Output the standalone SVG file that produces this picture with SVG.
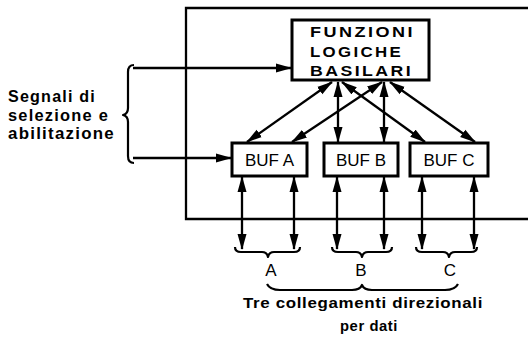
<svg xmlns="http://www.w3.org/2000/svg" width="528" height="343" viewBox="0 0 528 343">
<defs>
<marker id="ah" markerUnits="userSpaceOnUse" markerWidth="16" markerHeight="10" refX="15" refY="5" orient="auto-start-reverse" viewBox="0 0 16 10">
<path d="M0,0.5 L16,5 L0,9.5 z" fill="#000"/>
</marker>
<style>
.box{fill:#fff;stroke:#000;stroke-width:3}
.ln{fill:none;stroke:#000;stroke-width:2.3}
.ar{fill:none;stroke:#000;stroke-width:2.3;marker-end:url(#ah)}
.dar{fill:none;stroke:#000;stroke-width:2.3;marker-start:url(#ah);marker-end:url(#ah)}
.br{fill:none;stroke:#000;stroke-width:2.2;stroke-linejoin:round}
.t{font-family:"Liberation Sans",Arial,sans-serif;fill:#000}
.tb{font-family:"Liberation Sans",Arial,sans-serif;font-weight:bold;fill:#000}
</style>
</defs>
<rect width="528" height="343" fill="#fff"/>
<g id="frame">
<path class="ln" d="M528,8 H186 V219 H528"/>
</g>
<g id="connectors">
<path class="ar" d="M133,68 H291"/>
<path class="ar" d="M133,158 H231"/>
<path class="dar" d="M332,82 L247,142"/>
<path class="dar" d="M382,82 L292,142"/>
<path class="dar" d="M338,82 L338,142"/>
<path class="dar" d="M384,82 L384,142"/>
<path class="dar" d="M342,82 L425,142"/>
<path class="dar" d="M390,82 L475,142"/>
<path class="dar" d="M242,177 V249"/>
<path class="dar" d="M294,177 V249"/>
<path class="dar" d="M337,177 V249"/>
<path class="dar" d="M384,177 V249"/>
<path class="dar" d="M422,177 V249"/>
<path class="dar" d="M474,177 V249"/>
</g>
<g id="funzioni">
<rect class="box" x="292" y="20" width="137" height="60"/>
<text class="tb" x="310" y="37" font-size="14.5" letter-spacing="2" textLength="105" lengthAdjust="spacingAndGlyphs">FUNZIONI</text>
<text class="tb" x="310" y="56.5" font-size="14.5" letter-spacing="2" textLength="93" lengthAdjust="spacingAndGlyphs">LOGICHE</text>
<text class="tb" x="310" y="76" font-size="14.5" letter-spacing="2" textLength="103" lengthAdjust="spacingAndGlyphs">BASILARI</text>
</g>
<g id="bufA">
<rect class="box" x="232" y="143" width="75" height="33"/>
<text class="t" x="269.5" y="166" font-size="17" text-anchor="middle">BUF A</text>
</g>
<g id="bufB">
<rect class="box" x="324" y="143" width="74" height="33"/>
<text class="t" x="361" y="166" font-size="17" text-anchor="middle">BUF B</text>
</g>
<g id="bufC">
<rect class="box" x="410" y="143" width="78" height="33"/>
<text class="t" x="449" y="166" font-size="17" text-anchor="middle">BUF C</text>
</g>
<g id="segnali">
<path class="br" d="M134,65 Q128,65 128,72 V108 Q128,114 123,115 Q128,116 128,122 V156 Q128,163 134,163"/>
<text class="tb" x="8" y="102" font-size="16" letter-spacing="1.2" textLength="88" lengthAdjust="spacingAndGlyphs">Segnali di</text>
<text class="tb" x="8" y="121" font-size="16" letter-spacing="1.2" textLength="101" lengthAdjust="spacingAndGlyphs">selezione e</text>
<text class="tb" x="8" y="139" font-size="16" letter-spacing="1.2" textLength="107" lengthAdjust="spacingAndGlyphs">abilitazione</text>
</g>
<g id="labels">
<path class="br" d="M235,247 Q235,252 241,252 H262 Q267,252 268,257 Q269,252 274,252 H294 Q300,252 300,247"/>
<path class="br" d="M332,247 Q332,252 338,252 H356 Q361,252 362,257 Q363,252 368,252 H386 Q392,252 392,247"/>
<path class="br" d="M416,247 Q416,252 422,252 H443 Q448,252 449,257 Q450,252 455,252 H471 Q477,252 477,247"/>
<text class="t" x="271" y="276" font-size="17" text-anchor="middle">A</text>
<text class="t" x="361" y="276" font-size="17" text-anchor="middle">B</text>
<text class="t" x="450" y="276" font-size="17" text-anchor="middle">C</text>
<path class="br" stroke-width="2.6" d="M267,284 Q270,290 280,290 H352 Q360,290 362,285 Q364,290 372,290 H445 Q455,290 458,284"/>
<text class="tb" x="243" y="308" font-size="15.5" letter-spacing="0.6" textLength="240" lengthAdjust="spacingAndGlyphs">Tre collegamenti direzionali</text>
<text class="tb" x="340" y="331" font-size="15.5" letter-spacing="0.6" textLength="58" lengthAdjust="spacingAndGlyphs">per dati</text>
</g>
</svg>
